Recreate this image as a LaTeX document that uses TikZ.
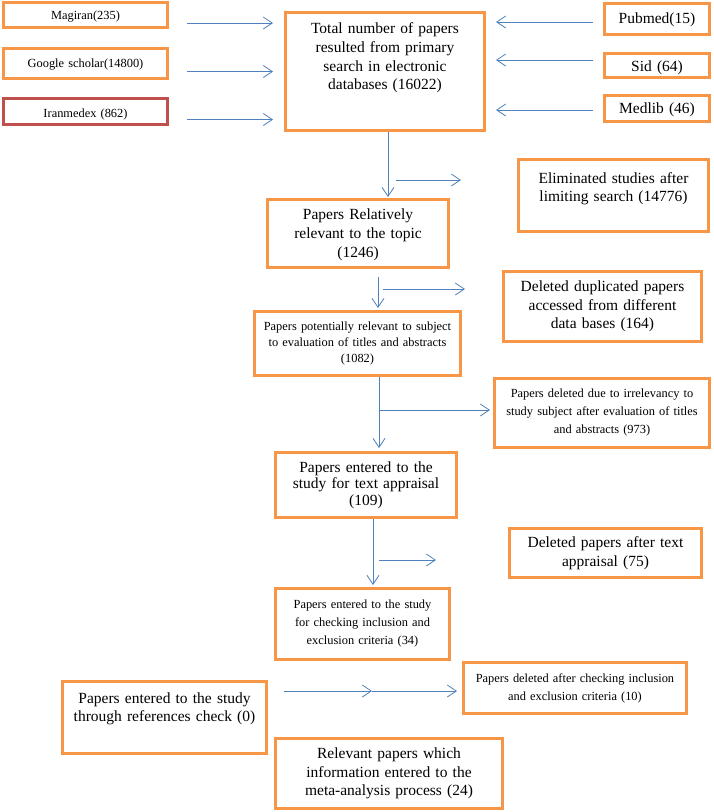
\documentclass[tikz,border=0pt]{standalone}
\usepackage{fontspec}
\setmainfont{Liberation Serif}
\usetikzlibrary{arrows.meta}
\definecolor{boxorange}{HTML}{F79646}
\definecolor{boxred}{HTML}{C0504D}
\definecolor{arrowblue}{HTML}{4F81BD}

\begin{document}
\begin{tikzpicture}[x=1pt, y=-1pt,
  box/.style={draw=boxorange, line width=3pt, align=center, inner xsep=2pt, inner ysep=0pt},
  bigtext/.style={font=\fontsize{15.5}{18.7}\selectfont},
  smalltext/.style={font=\fontsize{12.4}{18}\selectfont},
  arr/.style={draw=arrowblue, line width=0.8pt, -{Straight Barb[length=9pt,width=12pt]}}]
\useasboundingbox (0,0) rectangle (714,812);
% databases
\node[box, smalltext, text width=160pt, minimum height=25pt, text height=12.7pt, text depth=3pt] (mag) at (85.5,15) {Magiran(235)};
\node[box, smalltext, text width=160pt, minimum height=30pt, text height=11.7pt, text depth=3pt] (goo) at (85.5,63.5) {Google scholar(14800)};
\node[box, smalltext, draw=boxred, text width=160pt, minimum height=26pt, text height=15.7pt, text depth=3pt] (ira) at (85.5,111.5) {Iranmedex (862)};
\node[box, bigtext, text width=101pt, minimum height=31pt, text height=13.2pt, text depth=4pt] (pub) at (657,19) {Pubmed(15)};
\node[box, bigtext, text width=101pt, minimum height=24pt, text height=15.2pt, text depth=3pt] (sid) at (657,65.5) {Sid (64)};
\node[box, bigtext, text width=101pt, minimum height=26pt, text height=14.2pt, text depth=4pt] (med) at (657,108.5) {Medlib (46)};
\node[box, bigtext, text width=195pt, inner ysep=10.4pt, text depth=86.6pt] (tot) at (385,71.5)
  {Total number of papers\\ resulted from primary\\ search in electronic\\ databases (16022)};
% main column
\node[box, bigtext, text width=177pt, minimum height=68pt, text height=10.6pt, text depth=38.4pt] (rel) at (358,233.5)
  {Papers Relatively\\ relevant to the topic\\ (1246)};
\node[box, font=\fontsize{12.4}{16}\selectfont, text width=202pt, minimum height=64pt] (pot) at (357.5,343.5)
  {Papers potentially relevant to subject\\ to evaluation of titles and abstracts\\ (1082)};
\node[box, font=\fontsize{15.5}{16.5}\selectfont, text width=177pt, minimum height=65pt] (app) at (366,485)
  {Papers entered to the\\ study for text appraisal\\ (109)};
\node[box, smalltext, text width=170pt, minimum height=71pt] (chk) at (362.5,624)
  {Papers entered to the study\\ for checking inclusion and\\ exclusion criteria (34)};
\node[box, bigtext, text width=223pt, minimum height=70pt] (fin) at (389,773.5)
  {Relevant papers which\\ information entered to the\\ meta-analysis process (24)};
\node[box, bigtext, text width=200pt, inner ysep=10.9pt, text depth=39.6pt] (ref) at (164.5,717.5)
  {Papers entered to the study\\ through references check (0)};
% excluded
\node[box, bigtext, text width=186pt, inner ysep=12.9pt, text depth=35.6pt] (eli) at (613.5,195.5)
  {Eliminated studies after\\ limiting search (14776)};
\node[box, bigtext, text width=194pt, minimum height=70pt] (dup) at (602.5,306.5)
  {Deleted duplicated papers\\ accessed from different\\ data bases (164)};
\node[box, smalltext, text width=211pt, minimum height=69pt] (irr) at (602,413)
  {Papers deleted due to irrelevancy to\\ study subject after evaluation of titles\\ and abstracts (973)};
\node[box, bigtext, text width=188pt, minimum height=49pt] (dap) at (605.5,553) {Deleted papers after text\\ appraisal (75)};
\node[box, smalltext, text width=219pt, minimum height=51pt] (dck) at (575,688)
  {Papers deleted after checking inclusion\\ and exclusion criteria (10)};
% arrows
\foreach \s in {mag,goo,ira}
  \draw[arr, shorten <=18pt, shorten >=11pt] ([yshift=-8pt]\s.east) -- ([yshift=-8pt]\s.east -| tot.west);
\draw[arr, shorten <=10pt, shorten >=10pt] ([yshift=-3pt]pub.west) -- ([yshift=-3pt]pub.west -| tot.east);
\draw[arr, shorten <=10pt, shorten >=10pt] ([yshift=5.5pt]sid.west) -- ([yshift=5.5pt]sid.west -| tot.east);
\draw[arr, shorten <=10pt, shorten >=10pt] ([yshift=-1.5pt]med.west) -- ([yshift=-1.5pt]med.west -| tot.east);
\draw[arr, shorten >=1pt] ([xshift=3pt]tot.south) -- ([xshift=3pt]tot.south |- rel.north);
\draw[arr, shorten <=8pt, shorten >=2pt] ([xshift=20pt]rel.south) -- ([xshift=20pt]rel.south |- pot.north);
\draw[arr, shorten >=3pt] ([xshift=21.5pt]pot.south) -- ([xshift=21.5pt]pot.south |- app.north);
\draw[arr, shorten >=2pt] ([xshift=7pt]app.south) -- ([xshift=7pt]app.south |- chk.north);
\coordinate (e1) at (396,180);
\coordinate (d1) at (383,289);
\coordinate (i1) at (380,410);
\coordinate (t1) at (379,560);
\coordinate (m1) at (372,691);
\draw[arr, shorten >=56pt] (e1) -- (e1 -| eli.west);
\draw[arr, shorten >=37pt] (d1) -- (d1 -| dup.west);
\draw[arr, shorten >=3pt] (i1) -- (i1 -| irr.west);
\draw[arr, shorten >=72pt] (t1) -- (t1 -| dap.west);
\draw[arr, shorten <=16pt] ([yshift=26.5pt]ref.east) -- (m1);
\draw[arr, shorten >=5pt] (m1) -- (m1 -| dck.west);
\end{tikzpicture}
\end{document}
